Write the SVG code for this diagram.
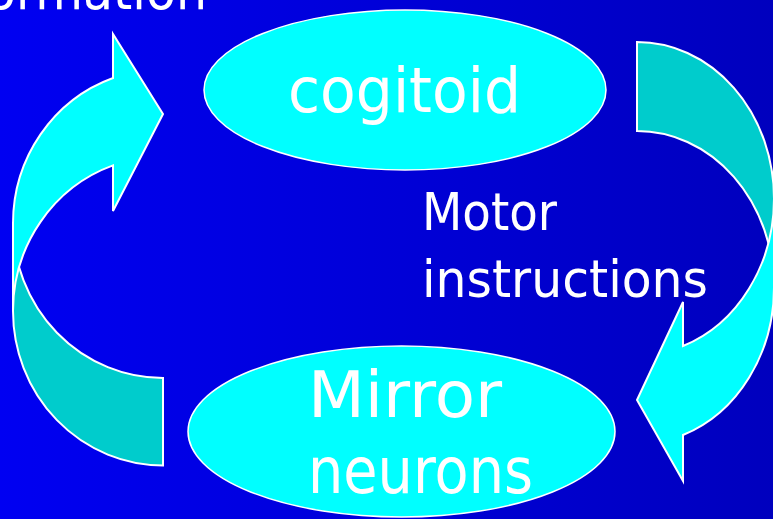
<svg xmlns="http://www.w3.org/2000/svg" width="773" height="519" viewBox="0 0 773 519">
  <defs>
    <linearGradient id="bg" x1="0" y1="0" x2="1" y2="0">
      <stop offset="0" stop-color="#0000F2"/>
      <stop offset="1" stop-color="#0000BE"/>
    </linearGradient>
    <style>
      .node { fill: #00FFFF; stroke: #FFFFFF; stroke-width: 1.5; }
      .front { fill: #00FFFF; stroke: #FFFFFF; stroke-width: 2; stroke-linejoin: miter; }
      .back { fill: #00CCCC; stroke: #FFFFFF; stroke-width: 2; stroke-linejoin: miter; }
      .t { fill: #FFFFFF; font-family: "DejaVu Sans", "Noto Sans", sans-serif; }
    </style>
  </defs>

  <rect x="0" y="0" width="773" height="519" fill="url(#bg)"/>

  <g id="information-label">
    <text class="t" x="-14" y="9" font-size="54" textLength="221" lengthAdjust="spacingAndGlyphs">ormation</text>
  </g>

  <g id="connectors">
    <g id="arrow-left">
      <path class="back" d="M163,465.4 A150,154.4 0 0 1 13,311 L13,223.6 A150,154.4 0 0 0 163,378 Z"/>
      <path class="front" d="M113,78 A150,154.4 0 0 0 13,223.6 L13,311 A150,154.4 0 0 1 113,165.4 L113,211 L163,114 L113,34 Z"/>
    </g>
    <g id="arrow-right">
      <path class="back" d="M637,42 A137,156.5 0 0 1 774,198.5 L774,287.5 A137,156.5 0 0 0 637,131 Z"/>
      <path class="front" d="M774,198.5 A137,156.5 0 0 1 683,346 L683,302 L637,400 L683,481 L683,435 A137,156.5 0 0 0 774,287.5 Z"/>
    </g>
  </g>

  <g id="cogitoid">
    <ellipse class="node" cx="405" cy="90" rx="201" ry="80"/>
    <text class="t" x="288" y="112" font-size="62" textLength="233" lengthAdjust="spacingAndGlyphs">cogitoid</text>
  </g>

  <g id="motor-instructions">
    <text class="t" x="422" y="230" font-size="52" textLength="135" lengthAdjust="spacingAndGlyphs">Motor</text>
    <text class="t" x="422" y="297" font-size="52" textLength="286" lengthAdjust="spacingAndGlyphs">instructions</text>
  </g>

  <g id="mirror-neurons">
    <ellipse class="node" cx="401.5" cy="431.5" rx="213.5" ry="85.5"/>
    <text class="t" x="308" y="417" font-size="64" textLength="194" lengthAdjust="spacingAndGlyphs">Mirror</text>
    <text class="t" x="308" y="493" font-size="64" textLength="225" lengthAdjust="spacingAndGlyphs">neurons</text>
  </g>
</svg>
